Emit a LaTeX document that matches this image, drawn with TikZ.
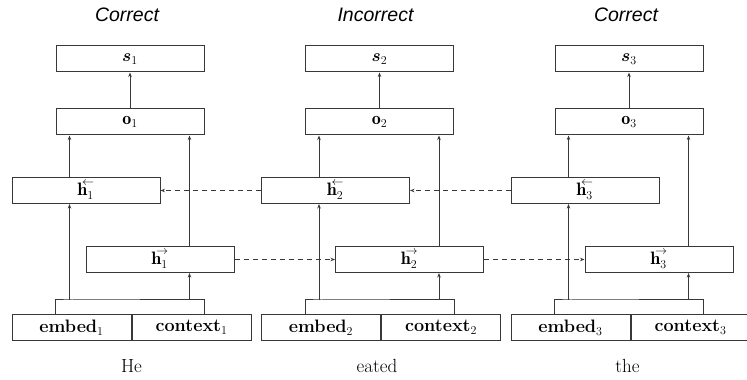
\documentclass[tikz,border=0pt]{standalone}
\usepackage{fontspec}
\usepackage{bm}
\usetikzlibrary{arrows.meta,positioning}
\newfontfamily\captionsans{Liberation Sans}
\DeclareMathSizes{17.28}{17.28}{13}{10}
\definecolor{wiregray}{HTML}{383838}
\newlength{\RnnColSep}
\setlength{\RnnColSep}{249.5pt}
\newcommand{\hbwd}[1]{$\mathbf{h}^{\mkern-8mu\raisebox{0.4ex}{$\scriptstyle\leftarrow$}}_{#1}$}
\newcommand{\hfwd}[1]{$\mathbf{h}^{\mkern-8mu\raisebox{0.4ex}{$\scriptstyle\rightarrow$}}_{#1}$}
\tikzset{/rnn/cell/.style={
	shape=rectangle, draw=wiregray, line width=1pt, minimum width=148pt, minimum height=26pt, inner sep=0pt, font=\fontsize{18}{21}\selectfont
}}
\tikzset{/rnn/half/.style={
	/rnn/cell, minimum width=119pt, font=\fontsize{18}{21}\selectfont\bfseries
}}
\tikzset{/rnn/title/.style={font=\captionsans\itshape\fontsize{19.5}{22}\selectfont, inner sep=0pt}}
\tikzset{/rnn/word/.style={font=\fontsize{19}{22}\selectfont, inner sep=0pt}}
\tikzset{/rnn/wire/.style={draw=wiregray, line width=1pt}}
\tikzset{/rnn/skip/.style={/rnn/wire, dash pattern=on 5pt off 4pt}}

\begin{document}
\begin{tikzpicture}[x=1pt, y=1pt, >={Stealth[length=4.5pt,width=3.5pt]}]
	\useasboundingbox (0,0) rectangle (747,380);
	% first column
	\path node[/rnn/cell] (s1) at (130,321) {$\bm{s}_1$};
	\path node[/rnn/cell] (o1) at (130,258) {$\mathbf{o}_1$};
	\path node[/rnn/cell] (hb1) at (86,189.5) {\hbwd{1}};
	\path node[/rnn/cell] (hf1) at (160,120.5) {\hfwd{1}};
	\path node[/rnn/half] (emb1) at (71.5,52.5) {embed$_1$};
	\path (emb1.east) node[anchor=west, /rnn/half] (ctx1) {context$_1$};
	% second and third columns
	\path (s1) ++ (\RnnColSep, 0) node[/rnn/cell] (s2) {$\bm{s}_2$};
	\path (o1) ++ (\RnnColSep, 0) node[/rnn/cell] (o2) {$\mathbf{o}_2$};
	\path (hb1) ++ (\RnnColSep, 0) node[/rnn/cell] (hb2) {\hbwd{2}};
	\path (hf1) ++ (\RnnColSep, 0) node[/rnn/cell] (hf2) {\hfwd{2}};
	\path (emb1) ++ (\RnnColSep, 0) node[/rnn/half] (emb2) {embed$_2$};
	\path (emb2.east) node[anchor=west, /rnn/half] (ctx2) {context$_2$};
	\path (s2) ++ (\RnnColSep, 0) node[/rnn/cell] (s3) {$\bm{s}_3$};
	\path (o2) ++ (\RnnColSep, 0) node[/rnn/cell] (o3) {$\mathbf{o}_3$};
	\path (hb2) ++ (\RnnColSep, 0) node[/rnn/cell] (hb3) {\hbwd{3}};
	\path (hf2) ++ (\RnnColSep, 0) node[/rnn/cell] (hf3) {\hfwd{3}};
	\path (emb2) ++ (\RnnColSep, 0) node[/rnn/half] (emb3) {embed$_3$};
	\path (emb3.east) node[anchor=west, /rnn/half] (ctx3) {context$_3$};
	% titles and words
	\path node[/rnn/title] (t1) at ([xshift=-3pt]s1.center |- 0,365) {Correct};
	\path node[/rnn/title] (t2) at ([xshift=-4pt]s2.center |- 0,365) {Incorrect};
	\path node[/rnn/title] (t3) at ([xshift=-3pt]s3.center |- 0,365) {Correct};
	\path node[/rnn/word] (w1) at (emb1.east |- 0,14) {He};
	\path node[/rnn/word] (w2) at ([xshift=-4pt]emb2.east |- 0,14) {eated};
	\path node[/rnn/word] (w3) at ([xshift=-3pt]emb3.east |- 0,14) {the};
	% vertical wiring
	\foreach \i in {1,2,3} {
		\coordinate (l\i) at ([xshift=14pt]o\i.south west);
		\coordinate (r\i) at ([xshift=-15pt]o\i.south east);
		\coordinate (k\i) at ([yshift=14pt]emb\i.north);
		\draw[/rnn/wire] (emb\i.north -| o\i.west) |- (k\i) -| (ctx\i.north -| o\i.east);
		\draw[/rnn/wire, ->] (l\i |- k\i) -- (l\i |- hb\i.south);
		\draw[/rnn/wire, ->] (l\i |- hb\i.north) -- (l\i);
		\draw[/rnn/wire, ->] (r\i |- k\i) -- (r\i |- hf\i.south);
		\draw[/rnn/wire, ->] (r\i |- hf\i.north) -- (r\i);
		\draw[/rnn/wire, ->] (o\i) -- (s\i);
	}
	% recurrent links
	\draw[/rnn/skip, ->] (hf1) -- (hf2);
	\draw[/rnn/skip, ->] (hf2) -- (hf3);
	\draw[/rnn/skip, ->] (hb2) -- (hb1);
	\draw[/rnn/skip, ->] (hb3) -- (hb2);
\end{tikzpicture}
\end{document}
